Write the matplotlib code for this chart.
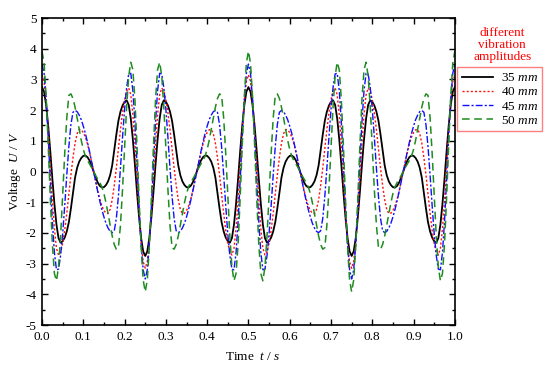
import numpy as np
import matplotlib
matplotlib.use('Agg')
import matplotlib.pyplot as plt

plt.rcParams['font.family'] = 'Liberation Serif'
plt.rcParams['mathtext.fontset'] = 'custom'
plt.rcParams['mathtext.rm'] = 'Liberation Serif'
plt.rcParams['mathtext.it'] = 'Liberation Serif:italic'
plt.rcParams['axes.unicode_minus'] = False

# sample times, 0 .. 1 s every 5 ms
t = np.round(np.arange(201) * 0.005, 3)

u_35 = [
    2.75, 2.60, 2.16, 1.48, 0.66, -0.23, -1.05, -1.73, -2.17, -2.32,
    -2.27, -2.15, -1.95, -1.65, -1.20, -0.70, -0.20, 0.12, 0.32, 0.44,
    0.51, 0.52, 0.47, 0.36, 0.19, 0.00, -0.19, -0.36, -0.47, -0.52,
    -0.51, -0.44, -0.32, -0.12, 0.20, 0.70, 1.20, 1.65, 1.95, 2.15,
    2.27, 2.32, 2.17, 1.73, 1.05, 0.23, -0.66, -1.48, -2.16, -2.60,
    -2.75, -2.60, -2.16, -1.48, -0.66, 0.23, 1.05, 1.73, 2.17, 2.32,
    2.27, 2.15, 1.95, 1.65, 1.20, 0.70, 0.20, -0.12, -0.32, -0.44,
    -0.51, -0.52, -0.47, -0.36, -0.19, 0.00, 0.19, 0.36, 0.47, 0.52,
    0.51, 0.44, 0.32, 0.12, -0.20, -0.70, -1.20, -1.65, -1.95, -2.15,
    -2.27, -2.32, -2.17, -1.73, -1.05, -0.23, 0.66, 1.48, 2.16, 2.60,
    2.75, 2.60, 2.16, 1.48, 0.66, -0.23, -1.05, -1.73, -2.17, -2.32,
    -2.27, -2.15, -1.95, -1.65, -1.20, -0.70, -0.20, 0.12, 0.32, 0.44,
    0.51, 0.52, 0.47, 0.36, 0.19, 0.00, -0.19, -0.36, -0.47, -0.52,
    -0.51, -0.44, -0.32, -0.12, 0.20, 0.70, 1.20, 1.65, 1.95, 2.15,
    2.27, 2.32, 2.17, 1.73, 1.05, 0.23, -0.66, -1.48, -2.16, -2.60,
    -2.75, -2.60, -2.16, -1.48, -0.66, 0.23, 1.05, 1.73, 2.17, 2.32,
    2.27, 2.15, 1.95, 1.65, 1.20, 0.70, 0.20, -0.12, -0.32, -0.44,
    -0.51, -0.52, -0.47, -0.36, -0.19, 0.00, 0.19, 0.36, 0.47, 0.52,
    0.51, 0.44, 0.32, 0.12, -0.20, -0.70, -1.20, -1.65, -1.95, -2.15,
    -2.27, -2.32, -2.17, -1.73, -1.05, -0.23, 0.66, 1.48, 2.16, 2.60,
    2.75]

u_40 = [
    3.15, 2.93, 2.29, 1.34, 0.22, -0.91, -1.86, -2.50, -2.72, -2.62,
    -2.34, -1.91, -1.36, -0.74, -0.11, 0.45, 0.92, 1.23, 1.37, 1.36,
    1.27, 1.12, 0.90, 0.63, 0.32, 0.00, -0.32, -0.63, -0.90, -1.12,
    -1.27, -1.36, -1.37, -1.23, -0.92, -0.45, 0.11, 0.74, 1.36, 1.91,
    2.34, 2.62, 2.72, 2.50, 1.86, 0.91, -0.22, -1.34, -2.29, -2.93,
    -3.15, -2.93, -2.29, -1.34, -0.22, 0.91, 1.86, 2.50, 2.72, 2.62,
    2.34, 1.91, 1.36, 0.74, 0.11, -0.45, -0.92, -1.23, -1.37, -1.36,
    -1.27, -1.12, -0.90, -0.63, -0.32, 0.00, 0.32, 0.63, 0.90, 1.12,
    1.27, 1.36, 1.37, 1.23, 0.92, 0.45, -0.11, -0.74, -1.36, -1.91,
    -2.34, -2.62, -2.72, -2.50, -1.86, -0.91, 0.22, 1.34, 2.29, 2.93,
    3.15, 2.93, 2.29, 1.34, 0.22, -0.91, -1.86, -2.50, -2.72, -2.62,
    -2.34, -1.91, -1.36, -0.74, -0.11, 0.45, 0.92, 1.23, 1.37, 1.36,
    1.27, 1.12, 0.90, 0.63, 0.32, 0.00, -0.32, -0.63, -0.90, -1.12,
    -1.27, -1.36, -1.37, -1.23, -0.92, -0.45, 0.11, 0.74, 1.36, 1.91,
    2.34, 2.62, 2.72, 2.50, 1.86, 0.91, -0.22, -1.34, -2.29, -2.93,
    -3.15, -2.93, -2.29, -1.34, -0.22, 0.91, 1.86, 2.50, 2.72, 2.62,
    2.34, 1.91, 1.36, 0.74, 0.11, -0.45, -0.92, -1.23, -1.37, -1.36,
    -1.27, -1.12, -0.90, -0.63, -0.32, 0.00, 0.32, 0.63, 0.90, 1.12,
    1.27, 1.36, 1.37, 1.23, 0.92, 0.45, -0.11, -0.74, -1.36, -1.91,
    -2.34, -2.62, -2.72, -2.50, -1.86, -0.91, 0.22, 1.34, 2.29, 2.93,
    3.15]

u_45 = [
    3.50, 3.20, 2.36, 1.12, -0.29, -1.62, -2.64, -3.20, -3.18, -2.74,
    -2.03, -1.11, -0.11, 0.81, 1.53, 1.93, 1.99, 1.95, 1.84, 1.69,
    1.48, 1.24, 0.96, 0.66, 0.33, 0.00, -0.33, -0.66, -0.96, -1.24,
    -1.48, -1.69, -1.84, -1.95, -1.99, -1.93, -1.53, -0.81, 0.11, 1.11,
    2.03, 2.74, 3.18, 3.20, 2.64, 1.62, 0.29, -1.12, -2.36, -3.20,
    -3.50, -3.20, -2.36, -1.12, 0.29, 1.62, 2.64, 3.20, 3.18, 2.74,
    2.03, 1.11, 0.11, -0.81, -1.53, -1.93, -1.99, -1.95, -1.84, -1.69,
    -1.48, -1.24, -0.96, -0.66, -0.33, 0.00, 0.33, 0.66, 0.96, 1.24,
    1.48, 1.69, 1.84, 1.95, 1.99, 1.93, 1.53, 0.81, -0.11, -1.11,
    -2.03, -2.74, -3.18, -3.20, -2.64, -1.62, -0.29, 1.12, 2.36, 3.20,
    3.50, 3.20, 2.36, 1.12, -0.29, -1.62, -2.64, -3.20, -3.18, -2.74,
    -2.03, -1.11, -0.11, 0.81, 1.53, 1.93, 1.99, 1.95, 1.84, 1.69,
    1.48, 1.24, 0.96, 0.66, 0.33, 0.00, -0.33, -0.66, -0.96, -1.24,
    -1.48, -1.69, -1.84, -1.95, -1.99, -1.93, -1.53, -0.81, 0.11, 1.11,
    2.03, 2.74, 3.18, 3.20, 2.64, 1.62, 0.29, -1.12, -2.36, -3.20,
    -3.50, -3.20, -2.36, -1.12, 0.29, 1.62, 2.64, 3.20, 3.18, 2.74,
    2.03, 1.11, 0.11, -0.81, -1.53, -1.93, -1.99, -1.95, -1.84, -1.69,
    -1.48, -1.24, -0.96, -0.66, -0.33, 0.00, 0.33, 0.66, 0.96, 1.24,
    1.48, 1.69, 1.84, 1.95, 1.99, 1.93, 1.53, 0.81, -0.11, -1.11,
    -2.03, -2.74, -3.18, -3.20, -2.64, -1.62, -0.29, 1.12, 2.36, 3.20,
    3.50]

u_50 = [
    3.92, 3.53, 2.43, 0.86, -0.85, -2.35, -3.32, -3.56, -3.11, -2.12,
    -0.79, 0.59, 1.75, 2.48, 2.53, 2.38, 2.10, 1.75, 1.38, 1.02,
    0.72, 0.50, 0.36, 0.25, 0.13, 0.00, -0.13, -0.25, -0.36, -0.50,
    -0.72, -1.02, -1.38, -1.75, -2.10, -2.38, -2.53, -2.48, -1.75, -0.59,
    0.79, 2.12, 3.11, 3.56, 3.32, 2.35, 0.85, -0.86, -2.43, -3.53,
    -3.92, -3.53, -2.43, -0.86, 0.85, 2.35, 3.32, 3.56, 3.11, 2.12,
    0.79, -0.59, -1.75, -2.48, -2.53, -2.38, -2.10, -1.75, -1.38, -1.02,
    -0.72, -0.50, -0.36, -0.25, -0.13, 0.00, 0.13, 0.25, 0.36, 0.50,
    0.72, 1.02, 1.38, 1.75, 2.10, 2.38, 2.53, 2.48, 1.75, 0.59,
    -0.79, -2.12, -3.11, -3.56, -3.32, -2.35, -0.85, 0.86, 2.43, 3.53,
    3.92, 3.53, 2.43, 0.86, -0.85, -2.35, -3.32, -3.56, -3.11, -2.12,
    -0.79, 0.59, 1.75, 2.48, 2.53, 2.38, 2.10, 1.75, 1.38, 1.02,
    0.72, 0.50, 0.36, 0.25, 0.13, 0.00, -0.13, -0.25, -0.36, -0.50,
    -0.72, -1.02, -1.38, -1.75, -2.10, -2.38, -2.53, -2.48, -1.75, -0.59,
    0.79, 2.12, 3.11, 3.56, 3.32, 2.35, 0.85, -0.86, -2.43, -3.53,
    -3.92, -3.53, -2.43, -0.86, 0.85, 2.35, 3.32, 3.56, 3.11, 2.12,
    0.79, -0.59, -1.75, -2.48, -2.53, -2.38, -2.10, -1.75, -1.38, -1.02,
    -0.72, -0.50, -0.36, -0.25, -0.13, 0.00, 0.13, 0.25, 0.36, 0.50,
    0.72, 1.02, 1.38, 1.75, 2.10, 2.38, 2.53, 2.48, 1.75, 0.59,
    -0.79, -2.12, -3.11, -3.56, -3.32, -2.35, -0.85, 0.86, 2.43, 3.53,
    3.92]

labels = ['35 $mm$', '40 $mm$', '45 $mm$', '50 $mm$']

fig = plt.figure(figsize=(5.5, 3.68), dpi=100)
ax = fig.add_axes([0.0764, 0.1168, 0.7506, 0.8342])

ax.plot(t, u_35, color='black', lw=1.3, ls='-', label=labels[0])
ax.plot(t, u_40, color='#ff1010', lw=1.0, ls=(0, (1.5, 1.5)), label=labels[1])
ax.plot(t, u_45, color='#1010ff', lw=1.0, ls=(0, (5, 1.5, 1.5, 1.5)), label=labels[2])
ax.plot(t, u_50, color='#1e8c1e', lw=1.1, ls=(0, (5, 3)), label=labels[3])

ax.set_xlim(0, 1.0)
ax.set_ylim(-5, 5)
ax.set_xticks(np.arange(0, 1.01, 0.1))
ax.set_xticklabels(['%.1f' % v for v in np.arange(0, 1.01, 0.1)])
ax.set_yticks(np.arange(-5, 6, 1))
ax.set_xticks(np.arange(0.05, 1.0, 0.1), minor=True)
ax.set_yticks(np.arange(-4.5, 5.0, 1.0), minor=True)
ax.tick_params(which='both', direction='in', top=True, right=True, labelsize=9.5, pad=4)
ax.tick_params(which='major', length=4, width=1)
ax.tick_params(which='minor', length=2.5, width=1)
for s in ax.spines.values():
    s.set_linewidth(1.2)

ax.set_xlabel('Time  $t$ / $s$', fontsize=9.5)
ax.xaxis.set_label_coords(0.51, -0.085)
ax.set_ylabel('Voltage  $U$ / $V$', fontsize=9.5, labelpad=2)

fig.text(0.913, 0.878, 'different\nvibration\namplitudes', color='red',
         ha='center', va='center', fontsize=9.5, linespacing=1.0)
leg = fig.legend(loc='upper left', bbox_to_anchor=(0.831, 0.817), fontsize=9.5,
                 frameon=True, fancybox=False, handlelength=2.4, handletextpad=0.55,
                 borderpad=0.35, borderaxespad=0, labelspacing=0.15)
leg.get_frame().set_edgecolor('#ff6060')
leg.get_frame().set_linewidth(1.0)

fig.savefig('out.png', dpi=100)
